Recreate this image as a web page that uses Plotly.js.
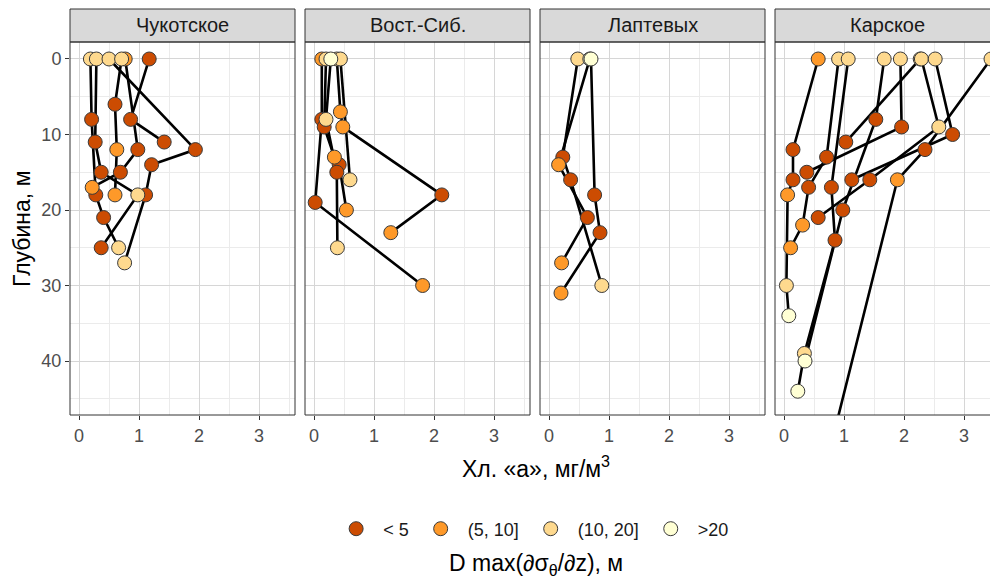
<!DOCTYPE html>
<html>
<head>
<meta charset="utf-8">
<script src="https://cdn.plot.ly/plotly-3.0.1.min.js"></script>
<style>html,body{margin:0;padding:0;background:#fff;overflow:hidden}</style>
</head>
<body>
<div id="chart" style="width:990px;height:582px"></div>
<script>
// ---------------- DATA ----------------
const seaNames = ["Чукотское", "Вост.-Сиб.", "Лаптевых", "Карское"];
const classLabels = ["< 5", "(5, 10]", "(10, 20]", ">20"];
const classColors = ["#CC4C02", "#FE9929", "#FED98E", "#FFFFD4"];

// Чукотское: station id, chlorophyll a (mg/m3), depth (m), class index of D max
const chukStation = [1,1,1,1,1, 2,2,2,2,2, 3,3,3,3,3, 4,4,4,4, 5,5,5,5, 6,6,6];
const chukChl     = [0.19,0.21,0.28,0.41,0.66, 0.29,0.27,0.37,0.98,0.37, 0.50,1.94,1.21,1.11,0.76, 0.71,0.60,0.63,0.60, 0.77,0.98,0.69,0.22, 1.17,0.86,1.42];
const chukDepth   = [0,8,18,21,25, 0,11,15,18,25, 0,12,14,18,27, 0,6,12,18, 0,12,15,17, 0,8,11];
const chukClass   = [2,0,0,0,2, 2,0,0,2,0, 2,0,0,0,2, 2,0,1,1, 1,0,0,1, 0,0,0];

// Восточно-Сибирское
const vsibStation = [1,1,1,1, 2,2,2,2,2, 3,3,3,3, 4,4,4,4,4, 5,5];
const vsibChl     = [0.13,0.13,0.02,1.81, 0.20,0.17,0.34,0.42,0.54, 0.28,0.20,0.38,0.39, 0.38,0.44,0.48,2.13,1.28, 0.44,0.60];
const vsibDepth   = [0,8,19,30, 0,9,13,14,20, 0,8,15,25, 0,7,9,18,23, 0,16];
const vsibClass   = [1,0,0,1, 2,0,1,0,1, 3,2,0,2, 2,1,1,0,1, 2,2];

// Лаптевых
const laptStation = [1,1,1,1, 2,2,2,2, 3,3,3,3];
const laptChl     = [0.48,0.23,0.36,0.88, 0.68,0.16,0.64,0.21, 0.70,0.76,0.85,0.20];
const laptDepth   = [0,13,16,30, 0,14,21,27, 0,18,23,31];
const laptClass   = [2,0,0,2, 3,1,0,1, 3,0,0,1];

// Карское
const karaStation = [1,1,1,1,1,1, 2,2,2,2,2, 3,3,3,3,3, 4,4,4,4, 5,5,5, 6,6, 7,7,7,7, 8,8,8, 9,9,9,9];
const karaChl     = [0.57,0.15,0.15,0.06,0.04,0.08, 0.91,0.71,0.41,0.31,0.11, 1.07,0.79,0.85,0.34,0.23, 1.67,1.53,0.98,0.35, 1.94,1.96,0.38, 2.27,1.03, 2.29,2.58,1.43,0.57, 2.52,2.81,1.13, 3.45,2.35,1.89,0.60];
const karaDepth   = [0,12,16,18,30,34, 0,13,17,22,25, 0,17,24,39,44, 0,8,20,40, 0,9,15, 0,11, 0,9,16,21, 0,10,16, 0,12,16,57];
const karaClass   = [1,0,0,1,2,3, 2,0,0,1,1, 2,0,0,2,3, 2,0,0,3, 2,0,0, 2,0, 2,2,0,0, 2,0,0, 2,0,1,3];

// ---------------- LAYOUT GEOMETRY ----------------
const W = 990, H = 582;
const panelLeft = [70, 305, 540, 775];
const panelW = 225;
const plotTop = 42, plotBottom = 415, stripTop = 9;
const pxPerUnit = 60, zeroOffset = 9;
const yRange = [47.15, -2.25];
const fontFam = "Liberation Sans, Arial, sans-serif";

const panels = [
  {station: chukStation, chl: chukChl, depth: chukDepth, cls: chukClass},
  {station: vsibStation, chl: vsibChl, depth: vsibDepth, cls: vsibClass},
  {station: laptStation, chl: laptChl, depth: laptDepth, cls: laptClass},
  {station: karaStation, chl: karaChl, depth: karaDepth, cls: karaClass}
];

const traces = [];
panels.forEach((p, i) => {
  const xa = 'x' + (i ? i + 1 : ''), ya = 'y' + (i ? i + 1 : '');
  const lx = [], ly = [];
  p.station.forEach((s, k) => {
    if (k > 0 && s !== p.station[k - 1]) { lx.push(null); ly.push(null); }
    lx.push(p.chl[k]); ly.push(p.depth[k]);
  });
  traces.push({type: 'scatter', mode: 'lines', x: lx, y: ly, xaxis: xa, yaxis: ya,
    line: {color: '#000000', width: 2.6}, showlegend: false, hoverinfo: 'skip', connectgaps: false});
});
const seen = {};
panels.forEach((p, i) => {
  const xa = 'x' + (i ? i + 1 : ''), ya = 'y' + (i ? i + 1 : '');
  classLabels.forEach((lab, c) => {
    const idx = [];
    p.cls.forEach((v, k) => { if (v === c) idx.push(k); });
    traces.push({type: 'scatter', mode: 'markers',
      x: idx.map(k => p.chl[k]), y: idx.map(k => p.depth[k]),
      xaxis: xa, yaxis: ya, name: lab, legendgroup: lab, legendrank: c + 1,
      showlegend: !seen[c] && idx.length > 0,
      marker: {size: 14, color: classColors[c], line: {color: '#3a3a3a', width: 1}},
      hoverinfo: 'skip'});
    if (idx.length) seen[c] = true;
  });
});

const layout = {
  width: W, height: H, autosize: false,
  margin: {l: 0, r: 0, t: 0, b: 0},
  paper_bgcolor: '#ffffff', plot_bgcolor: '#ffffff',
  font: {family: fontFam, color: '#1a1a1a'},
  showlegend: true,
  legend: {orientation: 'h', x: 0.537, xanchor: 'center', y: 1 - 529 / H, yanchor: 'middle',
    font: {size: 18, color: '#1a1a1a', family: fontFam}, itemwidth: 44, bgcolor: 'rgba(0,0,0,0)'},
  shapes: [], annotations: []
};

const yDomain = [1 - plotBottom / H, 1 - plotTop / H];
panelLeft.forEach((l, i) => {
  const r = Math.min(l + panelW, W);
  const sfx = i ? String(i + 1) : '';
  layout['xaxis' + sfx] = {
    domain: [l / W, r / W],
    range: [-zeroOffset / pxPerUnit, (r - l - zeroOffset) / pxPerUnit],
    anchor: 'y' + sfx, tick0: 0, dtick: 1, ticks: 'outside', ticklen: 4, tickwidth: 1, tickcolor: '#333333',
    tickfont: {size: 18, color: '#4d4d4d', family: fontFam}, showline: false, zeroline: false,
    showgrid: true, gridcolor: '#d6d6d6', gridwidth: 1,
    minor: {tick0: 0, dtick: 0.5, showgrid: true, gridcolor: '#ebebeb', gridwidth: 1, ticks: ''},
    fixedrange: true
  };
  layout['yaxis' + sfx] = {
    domain: yDomain, range: yRange, anchor: 'x' + sfx,
    tick0: 0, dtick: 10, ticks: i === 0 ? 'outside' : '', ticklen: 4, tickwidth: 1, tickcolor: '#333333',
    showticklabels: i === 0,
    tickfont: {size: 18, color: '#4d4d4d', family: fontFam}, showline: false, zeroline: false,
    showgrid: true, gridcolor: '#d6d6d6', gridwidth: 1,
    minor: {tick0: 0, dtick: 5, showgrid: true, gridcolor: '#ebebeb', gridwidth: 1, ticks: ''},
    fixedrange: true
  };
  // strip
  layout.shapes.push({type: 'rect', xref: 'paper', yref: 'paper',
    x0: l / W, x1: (l + panelW) / W, y0: 1 - plotTop / H, y1: 1 - stripTop / H,
    fillcolor: '#d9d9d9', line: {color: '#333333', width: 1}, layer: 'above'});
  // panel border
  layout.shapes.push({type: 'rect', xref: 'paper', yref: 'paper',
    x0: l / W, x1: (l + panelW) / W, y0: yDomain[0], y1: yDomain[1],
    fillcolor: 'rgba(0,0,0,0)', line: {color: '#333333', width: 1}, layer: 'above'});
  layout.annotations.push({xref: 'paper', yref: 'paper', x: (l + panelW / 2) / W, y: 1 - (stripTop + plotTop) / 2 / H,
    xanchor: 'center', yanchor: 'middle', showarrow: false, text: seaNames[i],
    font: {size: 20, color: '#1a1a1a', family: fontFam}});
});

layout.annotations.push({xref: 'paper', yref: 'paper', x: 536 / W, y: 1 - 467 / H,
  xanchor: 'center', yanchor: 'middle', showarrow: false,
  text: 'Хл. «а», мг/м<sup>3</sup>', font: {size: 23, color: '#000000', family: fontFam}});
layout.annotations.push({xref: 'paper', yref: 'paper', x: 22 / W, y: 1 - 229 / H,
  xanchor: 'center', yanchor: 'middle', showarrow: false, textangle: -90,
  text: 'Глубина, м', font: {size: 23, color: '#000000', family: fontFam}});
layout.annotations.push({xref: 'paper', yref: 'paper', x: 536 / W, y: 1 - 564 / H,
  xanchor: 'center', yanchor: 'middle', showarrow: false,
  text: 'D max(∂σ<sub>θ</sub>/∂z), м', font: {size: 23, color: '#000000', family: fontFam}});

Plotly.newPlot('chart', traces, layout, {staticPlot: true, displayModeBar: false});
</script>
</body>
</html>
